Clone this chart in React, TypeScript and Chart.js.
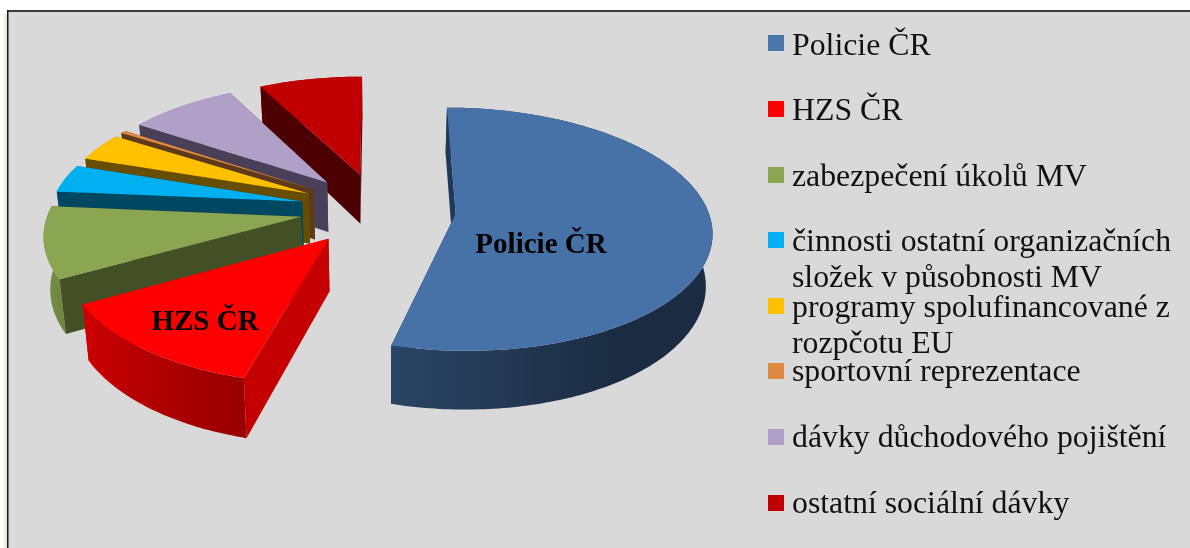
import React, { useEffect, useRef } from "react";
import { Chart, registerables } from "chart.js";

Chart.register(...registerables);

const categories = [
  "Policie ČR",
  "HZS ČR",
  "zabezpečení úkolů MV",
  "činnosti ostatní organizačních složek v působnosti MV",
  "programy spolufinancované z rozpčotu EU",
  "sportovní reprezentace",
  "dávky důchodového pojištění",
  "ostatní sociální dávky",
];
const shares = [54.2, 12.7, 9.5, 3.75, 3.75, 0.4, 8.05, 7.65];
const topColors = ["#4672a8", "#ff0000", "#8aa650", "#00b0f0", "#ffc000", "#de8a42", "#b0a0c7", "#c00000"];
const wallColors = ["#20395a", "#c40000", "#434f25", "#004761", "#664d00", "#5e3a1a", "#474058", "#4d0000"];
const legendSwatches = ["#4a76ab", "#ff0000", "#8aa650", "#00b0f0", "#ffc000", "#de8a42", "#b0a0c7", "#c00000"];
const legendLines = [
  ["Policie ČR"],
  ["HZS ČR"],
  ["zabezpečení úkolů MV"],
  ["činnosti ostatní organizačních", "složek v působnosti MV"],
  ["programy spolufinancované z", "rozpčotu EU"],
  ["sportovní reprezentace"],
  ["dávky důchodového pojištění"],
  ["ostatní sociální dávky"],
];
const legendBaselines = [[55], [120], [186], [251, 287], [317, 353], [381], [447], [513]];
const legendBoxTops = [35, 101, 167, 232, 298, 363, 429, 495];
const sliceLabels = [
  { text: "Policie ČR", x: 541, y: 246 },
  { text: "HZS ČR", x: 205, y: 323 },
];

const EXPLODE = 78;
const SQUASH = 0.47;
const PERSPECTIVE = 0.0005;
const DEPTH = 51;
const TAPER = 0.98;

function shade(hex: string, f: number) {
  const n = parseInt(hex.slice(1), 16);
  const c = [(n >> 16) & 255, (n >> 8) & 255, n & 255].map((v) => Math.round(v * f));
  return `rgb(${c[0]},${c[1]},${c[2]})`;
}

function rimFactor(deg: number) {
  if (deg <= 150) return 0.39;
  if (deg >= 255) return 0.88;
  return 0.39 + ((deg - 150) / 105) * 0.49;
}

function drawPoly(ctx: CanvasRenderingContext2D, pts: number[][], color: any) {
  ctx.beginPath();
  pts.forEach((p, i) => (i ? ctx.lineTo(p[0], p[1]) : ctx.moveTo(p[0], p[1])));
  ctx.closePath();
  ctx.fillStyle = color;
  ctx.fill();
}

const pie3d = {
  id: "pie3d",
  beforeDraw(chart: any) {
    const { ctx, width, height } = chart;
    ctx.save();
    ctx.fillStyle = "#ffffff";
    ctx.fillRect(0, 0, width, height);
    const g = ctx.createLinearGradient(3, 0, 7, 0);
    g.addColorStop(0, "rgba(235,230,205,0)");
    g.addColorStop(1, "rgba(225,218,185,1)");
    ctx.fillStyle = g;
    ctx.fillRect(3, 14, 4, height - 14);
    ctx.fillStyle = "#d9d9d9";
    ctx.fillRect(8, 11, width - 8, height - 11);
    ctx.fillStyle = "#3c3c3c";
    ctx.fillRect(7, 10, width - 7, 2);
    ctx.fillStyle = "#1c1c1c";
    ctx.fillRect(7, 10, 1.5, height - 10);
    ctx.restore();
  },
  beforeDatasetsDraw(chart: any) {
    const { ctx } = chart;
    const arcs = chart.getDatasetMeta(0).data;
    const order = arcs
      .map((el: any, i: number) => {
        const mid = (el.startAngle + el.endAngle) / 2;
        return { i, key: Math.sin(mid) };
      })
      .sort((a: any, b: any) => a.key - b.key);

    for (const { i } of order) {
      const el = arcs[i];
      const cx = el.x;
      const cy = el.y;
      const r = el.outerRadius;
      const mid = (el.startAngle + el.endAngle) / 2;
      const off = el.options.offset || 0;
      const ox = Math.cos(mid) * off;
      const oy = Math.sin(mid) * off;
      const project = (mx: number, my: number) => {
        const k = 1 / (1 - PERSPECTIVE * my);
        const sx = cx + mx * k;
        const sy = cy + my * SQUASH * k;
        return {
          top: [sx, sy],
          bottom: [cx + (sx - cx) * TAPER, sy + DEPTH * k],
        };
      };
      const apex = project(ox, oy);
      const steps = Math.max(2, Math.ceil(((el.endAngle - el.startAngle) * 180) / Math.PI));
      const rim = [];
      for (let s = 0; s <= steps; s++) {
        const a = el.startAngle + ((el.endAngle - el.startAngle) * s) / steps;
        rim.push({ a, ...project(ox + Math.cos(a) * r, oy + Math.sin(a) * r) });
      }
      const last = rim[rim.length - 1];
      const first = rim[0];
      drawPoly(ctx, [apex.top, last.top, last.bottom, apex.bottom], wallColors[i]);

      const samples = rim
        .map((p) => ({ x: p.top[0], deg: ((p.a + Math.PI / 2) * 180) / Math.PI }))
        .filter((p) => p.deg >= 90);
      const xs = samples.map((p) => p.x);
      const minX = Math.min(...xs);
      const maxX = Math.max(...xs);
      const grad = ctx.createLinearGradient(minX, 0, maxX + 0.01, 0);
      samples.forEach((p) => {
        grad.addColorStop(Math.min(1, (p.x - minX) / (maxX - minX + 0.01)), shade(topColors[i], rimFactor(p.deg)));
      });
      drawPoly(ctx, [...rim.map((p) => p.top), ...rim.slice().reverse().map((p) => p.bottom)], grad);

      drawPoly(ctx, [apex.top, first.top, first.bottom, apex.bottom], wallColors[i]);
      drawPoly(ctx, [apex.top, ...rim.map((p) => p.top)], topColors[i]);
    }
    return false;
  },
  afterDraw(chart: any) {
    const { ctx } = chart;
    ctx.save();
    ctx.fillStyle = "#000000";
    ctx.textAlign = "center";
    ctx.font = 'bold 29px "Liberation Serif"';
    ctx.textBaseline = "middle";
    sliceLabels.forEach((l) => ctx.fillText(l.text, l.x, l.y));
    ctx.textBaseline = "alphabetic";
    ctx.textAlign = "left";
    ctx.font = '31.8px "Liberation Serif"';
    legendLines.forEach((lines, i) => {
      ctx.fillStyle = legendSwatches[i];
      ctx.fillRect(768, legendBoxTops[i], 16, 16);
      ctx.fillStyle = "#111111";
      lines.forEach((t, j) => ctx.fillText(t, 792, legendBaselines[i][j]));
    });
    ctx.restore();
  },
};

export default function App() {
  const ref = useRef<HTMLCanvasElement>(null);
  useEffect(() => {
    document.body.style.margin = "0";
    const chart = new Chart(ref.current as HTMLCanvasElement, {
      type: "pie",
      data: {
        labels: categories,
        datasets: [
          {
            data: shares,
            backgroundColor: topColors,
            borderWidth: 0,
            offset: shares.map(() => EXPLODE),
          },
        ],
      },
      options: {
        responsive: false,
        animation: false,
        radius: 252,
        events: [],
        layout: { padding: { right: 434, bottom: 130 } },
        plugins: { legend: { display: false }, tooltip: { enabled: false } },
      },
      plugins: [pie3d],
    } as any);
    return () => chart.destroy();
  }, []);
  return <canvas ref={ref} width={1190} height={548} style={{ display: "block", position: "fixed", left: 0, top: 0 }} />;
}
